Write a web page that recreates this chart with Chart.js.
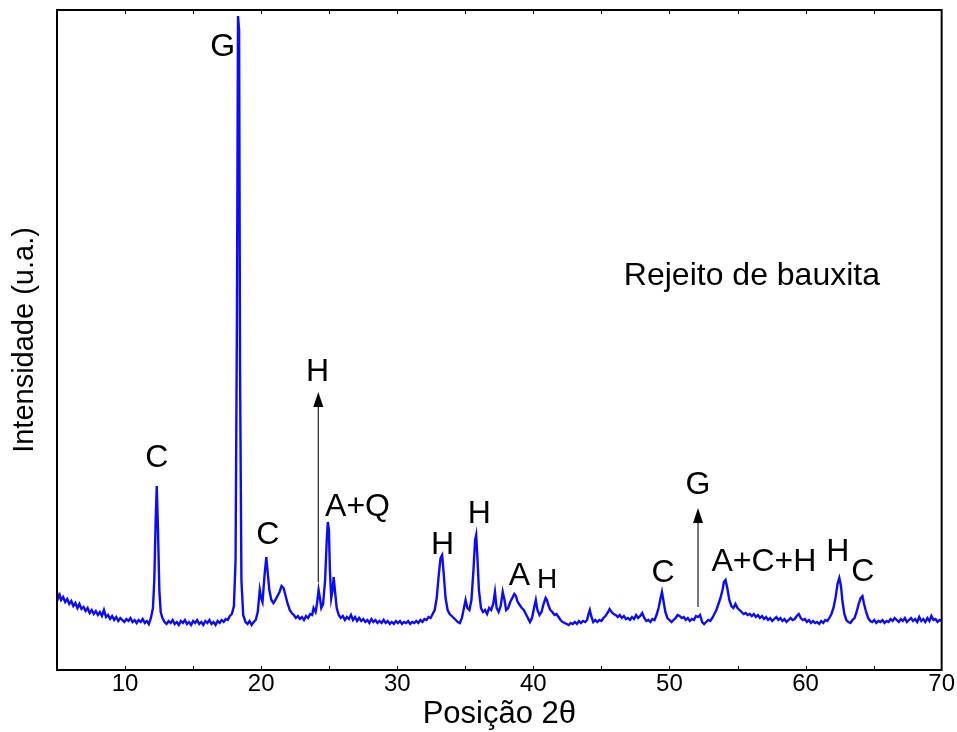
<!DOCTYPE html>
<html>
<head>
<meta charset="utf-8">
<title>Rejeito de bauxita - DRX</title>
<script src="https://cdn.jsdelivr.net/npm/chart.js@4.4.1/dist/chart.umd.min.js"></script>
<style>
  html, body { margin: 0; padding: 0; background: #fff; }
  canvas { display: block; }
</style>
</head>
<body>
<canvas id="drx" width="957" height="732"></canvas>
<script>
// difratograma: [2theta, intensidade (u.a.)]
const pattern = [
  [5.0,78],[5.1,72],[5.2,75],[5.3,70],[5.45,73],[5.6,68],[5.75,71],[5.9,66],[6.05,69],[6.2,64],
  [6.35,67],[6.5,62],[6.65,66],[6.8,61],[6.95,63],[7.1,59],[7.25,62],[7.4,57],[7.55,60],[7.7,56],
  [7.85,59],[8.0,55],[8.15,58],[8.3,54],[8.45,60],[8.6,53],[8.75,55],[8.9,51],[9.05,54],[9.2,50],
  [9.35,53],[9.5,49],[9.65,52],[9.8,50],[9.95,48],[10.1,51],[10.25,49],[10.4,52],[10.55,48],[10.7,50],
  [10.85,47],[11.0,50],[11.15,48],[11.3,51],[11.45,47],[11.6,49],[11.75,46],[11.9,52],[12.05,62],[12.15,90],
  [12.25,150],[12.33,184],[12.42,140],[12.52,80],[12.62,58],[12.75,52],[12.9,48],[13.05,46],[13.2,49],[13.35,47],
  [13.5,50],[13.65,46],[13.8,48],[13.95,45],[14.1,49],[14.25,47],[14.4,50],[14.55,46],[14.7,48],[14.85,45],
  [15.0,49],[15.15,47],[15.3,50],[15.45,46],[15.6,48],[15.75,45],[15.9,49],[16.05,47],[16.2,50],[16.35,46],
  [16.5,48],[16.65,45],[16.8,49],[16.95,47],[17.1,50],[17.25,48],[17.4,51],[17.55,50],[17.7,54],[17.85,56],
  [18.0,64],[18.12,110],[18.22,350],[18.3,654],[18.38,640],[18.45,300],[18.55,90],[18.68,55],[18.85,48],[19.0,46],
  [19.15,49],[19.3,45],[19.45,48],[19.6,50],[19.75,58],[19.9,80],[20.0,72],[20.1,68],[20.25,95],[20.38,113],
  [20.5,95],[20.6,80],[20.75,70],[20.9,67],[21.05,70],[21.2,74],[21.35,78],[21.5,84],[21.65,82],[21.8,74],
  [21.95,66],[22.1,60],[22.25,57],[22.4,55],[22.55,52],[22.7,54],[22.85,51],[23.0,53],[23.15,50],[23.3,54],
  [23.45,52],[23.6,56],[23.75,55],[23.85,62],[24.0,58],[24.1,66],[24.22,80],[24.32,72],[24.42,62],[24.55,66],
  [24.7,90],[24.82,130],[24.9,148],[24.98,140],[25.05,100],[25.15,72],[25.25,80],[25.33,93],[25.42,80],[25.55,62],
  [25.7,55],[25.85,52],[26.0,54],[26.15,50],[26.3,53],[26.45,51],[26.6,55],[26.75,50],[26.9,53],[27.05,49],
  [27.2,52],[27.35,49],[27.5,51],[27.65,48],[27.8,50],[27.95,47],[28.1,51],[28.25,48],[28.4,50],[28.55,47],
  [28.7,49],[28.85,47],[29.0,50],[29.15,47],[29.3,49],[29.45,46],[29.6,48],[29.75,46],[29.9,49],[30.05,47],
  [30.2,49],[30.35,46],[30.5,48],[30.65,47],[30.8,49],[30.95,46],[31.1,48],[31.25,47],[31.4,49],[31.55,47],
  [31.7,50],[31.85,48],[32.0,51],[32.15,50],[32.3,53],[32.45,52],[32.6,56],[32.75,60],[32.9,72],[33.05,95],
  [33.18,112],[33.3,115],[33.42,95],[33.55,72],[33.7,60],[33.85,56],[34.0,54],[34.15,52],[34.3,50],[34.45,48],
  [34.6,47],[34.75,52],[34.9,62],[35.02,70],[35.15,62],[35.3,60],[35.45,70],[35.6,100],[35.72,130],[35.8,135],
  [35.9,110],[36.0,80],[36.15,62],[36.3,58],[36.45,60],[36.6,56],[36.75,62],[36.9,60],[37.05,66],[37.18,78],
  [37.3,62],[37.45,58],[37.6,64],[37.75,78],[37.88,70],[38.0,60],[38.15,62],[38.3,68],[38.45,72],[38.6,76],
  [38.72,74],[38.85,68],[39.0,65],[39.15,62],[39.3,60],[39.45,56],[39.6,52],[39.75,48],[39.9,52],[40.05,62],
  [40.18,70],[40.3,60],[40.45,55],[40.6,58],[40.75,66],[40.9,72],[41.0,70],[41.1,65],[41.25,60],[41.4,58],
  [41.55,55],[41.7,56],[41.85,53],[42.0,50],[42.15,48],[42.3,47],[42.45,46],[42.6,45],[42.75,47],[42.9,46],
  [43.05,48],[43.2,46],[43.35,49],[43.5,47],[43.65,49],[43.8,48],[43.95,50],[44.05,56],[44.15,60],[44.25,54],
  [44.4,48],[44.55,50],[44.7,48],[44.85,50],[45.0,49],[45.15,52],[45.3,54],[45.45,57],[45.6,61],[45.75,58],
  [45.9,56],[46.05,55],[46.2,53],[46.35,55],[46.5,52],[46.65,54],[46.8,51],[46.95,52],[47.1,50],[47.25,53],
  [47.4,51],[47.55,55],[47.7,52],[47.85,54],[48.0,57],[48.15,52],[48.3,49],[48.45,50],[48.6,48],[48.75,51],
  [48.9,50],[49.05,55],[49.2,62],[49.35,72],[49.45,78],[49.55,70],[49.7,58],[49.85,52],[50.0,50],[50.15,48],
  [50.3,50],[50.45,52],[50.6,55],[50.75,54],[50.9,52],[51.05,53],[51.2,50],[51.35,52],[51.5,49],[51.65,51],
  [51.8,50],[51.95,54],[52.1,53],[52.25,55],[52.4,48],[52.55,46],[52.7,48],[52.85,50],[53.0,49],[53.15,52],
  [53.3,56],[53.45,60],[53.6,66],[53.75,72],[53.9,80],[54.0,88],[54.12,90],[54.25,82],[54.4,70],[54.55,64],
  [54.7,62],[54.85,66],[55.0,62],[55.15,60],[55.3,58],[55.45,56],[55.6,57],[55.75,55],[55.9,56],[56.05,54],
  [56.2,56],[56.35,53],[56.5,55],[56.65,52],[56.8,54],[56.95,51],[57.1,53],[57.25,50],[57.4,52],[57.55,49],
  [57.7,51],[57.85,53],[58.0,50],[58.15,52],[58.3,49],[58.45,51],[58.6,48],[58.75,50],[58.9,52],[59.05,50],
  [59.2,51],[59.35,54],[59.5,56],[59.65,52],[59.8,50],[59.95,51],[60.1,48],[60.25,50],[60.4,47],[60.55,49],
  [60.7,47],[60.85,48],[61.0,46],[61.15,49],[61.3,47],[61.45,50],[61.6,49],[61.75,52],[61.9,56],[62.05,62],
  [62.2,72],[62.35,86],[62.48,92],[62.6,84],[62.72,68],[62.85,56],[63.0,50],[63.15,48],[63.3,47],[63.45,50],
  [63.6,52],[63.75,58],[63.9,66],[64.05,72],[64.18,74],[64.3,66],[64.45,58],[64.6,52],[64.75,49],[64.9,48],
  [65.05,50],[65.2,47],[65.35,49],[65.5,48],[65.65,50],[65.8,47],[65.95,49],[66.1,48],[66.25,51],[66.4,49],
  [66.55,52],[66.7,50],[66.85,48],[67.0,51],[67.15,49],[67.3,52],[67.45,48],[67.6,50],[67.75,52],[67.9,49],
  [68.05,51],[68.2,48],[68.35,53],[68.5,49],[68.65,51],[68.8,48],[68.95,52],[69.1,49],[69.25,54],[69.4,50],
  [69.55,51],[69.7,48],[69.85,50],[70.0,49]
];

const xTicks = [10, 20, 30, 40, 50, 60, 70];
const minorTicks = [10, 15, 20, 25, 30, 35, 40, 45, 50, 55, 60, 65];

// fases identificadas (posicao do texto em unidades do grafico)
const phaseLabels = [
  { text: 'G', x: 17.18, y: 623 },
  { text: 'C', x: 12.34, y: 212 },
  { text: 'C', x: 20.48, y: 135 },
  { text: 'H', x: 24.15, y: 298 },
  { text: 'A+Q', x: 27.08, y: 163 },
  { text: 'H', x: 33.32, y: 125 },
  { text: 'H', x: 36.03, y: 156 },
  { text: 'A', x: 38.97, y: 94 },
  { text: 'H', x: 41.02, y: 90, small: true },
  { text: 'C', x: 49.53, y: 97 },
  { text: 'G', x: 52.1, y: 185 },
  { text: 'A+C+H', x: 56.94, y: 108 },
  { text: 'H', x: 62.37, y: 118 },
  { text: 'C', x: 64.2, y: 98 }
];

// setas: x, y inicial, y final
const arrows = [
  { x: 24.2, from: 88, to: 278 },
  { x: 52.1, from: 63, to: 162 }
];

const FONT = "'Liberation Sans', Arial, sans-serif";

const decorPlugin = {
  id: 'decor',
  afterDatasetsDraw(chart) {
    const { ctx, chartArea: a, scales: { x, y } } = chart;
    ctx.save();

    // moldura
    ctx.strokeStyle = '#000';
    ctx.lineWidth = 2;
    ctx.strokeRect(a.left, a.top, a.right - a.left, a.bottom - a.top);

    // marcas para dentro, em cima e em baixo
    ctx.lineWidth = 1;
    minorTicks.forEach(v => {
      const px = Math.round(x.getPixelForValue(v)) + 0.5;
      ctx.beginPath();
      ctx.moveTo(px, a.bottom);
      ctx.lineTo(px, a.bottom - 4);
      ctx.moveTo(px, a.top);
      ctx.lineTo(px, a.top + 4);
      ctx.stroke();
    });

    // setas
    ctx.strokeStyle = '#333';
    ctx.fillStyle = '#000';
    ctx.lineWidth = 1.3;
    arrows.forEach(ar => {
      const px = x.getPixelForValue(ar.x);
      const y0 = y.getPixelForValue(ar.from);
      const y1 = y.getPixelForValue(ar.to);
      ctx.beginPath();
      ctx.moveTo(px, y0);
      ctx.lineTo(px, y1 + 12);
      ctx.stroke();
      ctx.beginPath();
      ctx.moveTo(px, y1);
      ctx.lineTo(px - 5, y1 + 15);
      ctx.lineTo(px + 5, y1 + 15);
      ctx.closePath();
      ctx.fill();
    });

    // rotulos das fases
    ctx.fillStyle = '#000';
    ctx.textAlign = 'center';
    ctx.textBaseline = 'middle';
    phaseLabels.forEach(l => {
      ctx.font = (l.small ? '28px ' : '32px ') + FONT;
      ctx.fillText(l.text, x.getPixelForValue(l.x), y.getPixelForValue(l.y));
    });

    ctx.font = '32px ' + FONT;
    ctx.fillText('Rejeito de bauxita', x.getPixelForValue(56.06), y.getPixelForValue(394));

    ctx.restore();
  }
};

new Chart(document.getElementById('drx'), {
  type: 'line',
  data: {
    datasets: [{
      data: pattern.map(([t, i]) => ({ x: t, y: i })),
      borderColor: '#0a0aff',
      borderWidth: 2.4,
      pointRadius: 0,
      tension: 0,
      fill: false
    }]
  },
  options: {
    responsive: false,
    animation: false,
    devicePixelRatio: 1,
    layout: { padding: { top: 10, right: 14, left: 0, bottom: 0 } },
    plugins: { legend: { display: false }, tooltip: { enabled: false } },
    scales: {
      x: {
        type: 'linear',
        min: 5,
        max: 70,
        afterBuildTicks: s => { s.ticks = xTicks.map(v => ({ value: v })); },
        afterFit: s => { s.height = 62; },
        grid: { display: false, drawTicks: false },
        border: { display: false },
        ticks: {
          padding: 2,
          color: '#000',
          maxRotation: 0,
          font: { family: FONT, size: 24, lineHeight: 1 }
        },
        title: {
          display: true,
          text: 'Posição 2θ',
          color: '#000',
          padding: { top: 0, bottom: 2 },
          font: { family: FONT, size: 31, lineHeight: 1 }
        }
      },
      y: {
        min: 0,
        max: 660,
        afterFit: s => { s.width = 57; },
        grid: { display: false, drawTicks: false },
        border: { display: false },
        ticks: { display: false },
        title: {
          display: true,
          text: 'Intensidade (u.a.)',
          color: '#000',
          padding: { top: 10, bottom: 0 },
          font: { family: FONT, size: 29, lineHeight: 1 }
        }
      }
    }
  },
  plugins: [decorPlugin]
});
</script>
</body>
</html>
